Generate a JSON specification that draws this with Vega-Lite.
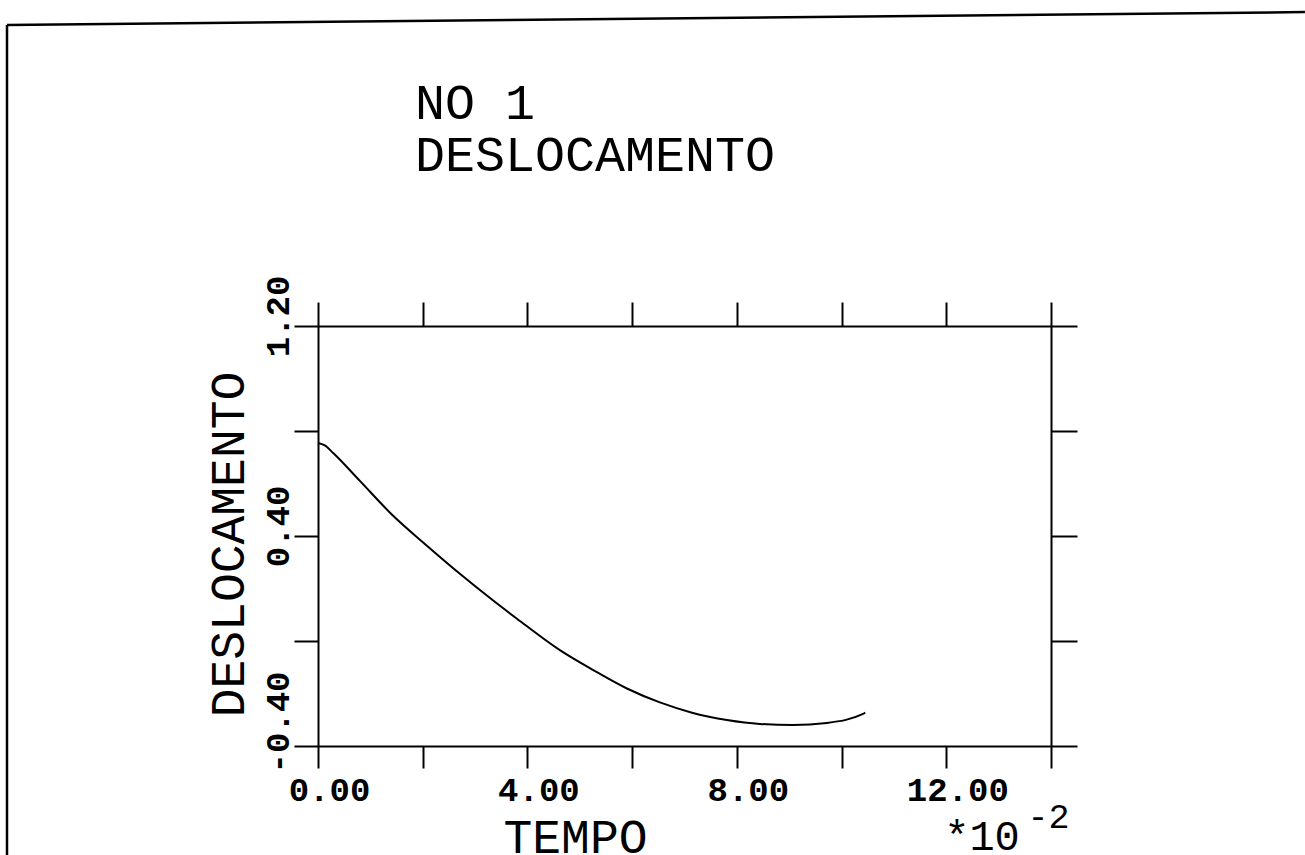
{
  "$schema": "https://vega.github.io/schema/vega-lite/v6.json",
  "width": 733,
  "height": 420,
  "autosize": "none",
  "padding": {"left": 318, "top": 326, "right": 254, "bottom": 109},
  "background": "white",
  "title": {
    "text": ["NO 1", "DESLOCAMENTO"],
    "anchor": "start",
    "frame": "group",
    "dx": 97,
    "offset": -220,
    "baseline": "bottom",
    "lineHeight": 52,
    "font": "Liberation Mono",
    "fontSize": 50,
    "fontWeight": "normal",
    "color": "black"
  },
  "config": {
    "view": {"stroke": null},
    "axis": {
      "grid": false,
      "domainColor": "black",
      "domainWidth": 2,
      "tickColor": "black",
      "tickWidth": 2,
      "labelColor": "black",
      "titleColor": "black",
      "labelFont": "Liberation Mono",
      "labelFontWeight": "bold",
      "labelFontSize": 34,
      "titleFont": "Liberation Mono",
      "titleFontWeight": "normal",
      "titleFontSize": 48,
      "labelOverlap": false,
      "labelFlush": false
    }
  },
  "layer": [
    {
      "data": {"values": [
        {"t": 0, "d": 0.754},
        {"t": 0.13, "d": 0.745},
        {"t": 0.29, "d": 0.716},
        {"t": 0.8, "d": 0.61},
        {"t": 1.43, "d": 0.478},
        {"t": 2.08, "d": 0.363},
        {"t": 2.71, "d": 0.256},
        {"t": 3.34, "d": 0.155},
        {"t": 3.8, "d": 0.085},
        {"t": 4.62, "d": -0.035},
        {"t": 5.25, "d": -0.11},
        {"t": 5.9, "d": -0.181},
        {"t": 6.53, "d": -0.234},
        {"t": 7.16, "d": -0.274},
        {"t": 7.81, "d": -0.301},
        {"t": 8.44, "d": -0.316},
        {"t": 9.07, "d": -0.32},
        {"t": 9.72, "d": -0.312},
        {"t": 10.41, "d": -0.278},
        {"t": 10.45, "d": -0.272}
      ]},
      "mark": {"type": "line", "color": "black", "strokeWidth": 2, "interpolate": "monotone"},
      "encoding": {
        "x": {
          "field": "t", "type": "quantitative",
          "scale": {"domain": [0, 14], "nice": false, "zero": false},
          "axis": {
            "orient": "bottom",
            "values": [0, 2, 4, 6, 8, 10, 12, 14],
            "tickSize": 22,
            "labelExpr": "datum.value % 4 === 0 ? format(datum.value, '.2f') : ''",
            "labelAlign": "center",
            "labelBaseline": "alphabetic",
            "labelPadding": 32,
            "labelOffset": 11,
            "title": "TEMPO",
            "titleX": 257,
            "titleY": 106,
            "titleAlign": "center",
            "titleBaseline": "alphabetic"
          }
        },
        "y": {
          "field": "d", "type": "quantitative",
          "scale": {"domain": [-0.4, 1.2], "nice": false, "zero": false},
          "axis": {
            "orient": "left",
            "values": [-0.4, 0, 0.4, 0.8, 1.2],
            "tickSize": 24,
            "labelExpr": "abs(datum.value - 0.8) < 0.01 || abs(datum.value) < 0.01 ? '' : replace(format(datum.value, '.2f'), '−', '-')",
            "labelAngle": 270,
            "labelAlign": "center",
            "labelBaseline": "alphabetic",
            "labelPadding": 6,
            "labelOffset": {"condition": {"test": "datum.value < 0", "value": -24}, "value": -10},
            "title": "DESLOCAMENTO",
            "titleAngle": 270,
            "titleX": -75,
            "titleY": 218,
            "titleAlign": "center",
            "titleBaseline": "alphabetic"
          }
        }
      }
    },
    {
      "data": {"values": [
        {"x": -5.94, "y": 2.347, "x2": -5.94, "y2": -0.82},
        {"x": -5.94, "y": 2.347, "x2": 18.85, "y2": 2.396}
      ]},
      "mark": {"type": "rule", "color": "black", "strokeWidth": 2.5},
      "encoding": {
        "x": {
          "field": "x", "type": "quantitative",
          "scale": {"domain": [0, 14], "nice": false, "zero": false},
          "axis": {"orient": "top", "values": [0, 2, 4, 6, 8, 10, 12, 14], "tickSize": 24, "labels": false, "title": null}
        },
        "y": {
          "field": "y", "type": "quantitative",
          "scale": {"domain": [-0.4, 1.2], "nice": false, "zero": false},
          "axis": {"orient": "right", "values": [-0.4, 0, 0.4, 0.8, 1.2], "tickSize": 26, "labels": false, "title": null}
        },
        "x2": {"field": "x2"},
        "y2": {"field": "y2"}
      }
    },
    {
      "data": {"values": [{"label": "*10", "x": 11.96, "y": -0.4}]},
      "mark": {"type": "text", "font": "Liberation Mono", "fontSize": 42, "align": "left", "baseline": "alphabetic", "dy": 104, "color": "black"},
      "encoding": {
        "x": {"field": "x", "type": "quantitative", "scale": {"domain": [0, 14], "nice": false, "zero": false}, "axis": null},
        "y": {"field": "y", "type": "quantitative", "scale": {"domain": [-0.4, 1.2], "nice": false, "zero": false}, "axis": null},
        "text": {"field": "label"}
      }
    },
    {
      "data": {"values": [{"label": "-2", "x": 13.55, "y": -0.4}]},
      "mark": {"type": "text", "font": "Liberation Mono", "fontSize": 35, "align": "left", "baseline": "alphabetic", "dy": 82, "color": "black"},
      "encoding": {
        "x": {"field": "x", "type": "quantitative", "scale": {"domain": [0, 14], "nice": false, "zero": false}, "axis": null},
        "y": {"field": "y", "type": "quantitative", "scale": {"domain": [-0.4, 1.2], "nice": false, "zero": false}, "axis": null},
        "text": {"field": "label"}
      }
    }
  ],
  "resolve": {"axis": {"x": "independent", "y": "independent"}}
}
